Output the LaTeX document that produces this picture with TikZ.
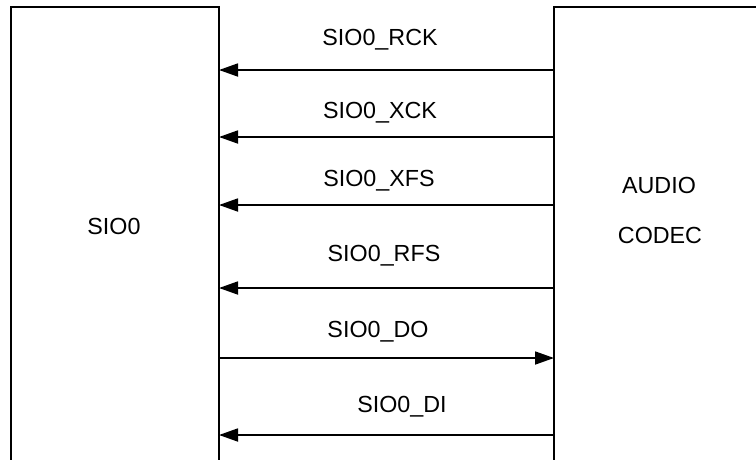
\documentclass[tikz,border=0pt]{standalone}
\usepackage{fontspec}
\setmainfont{Liberation Sans}
\usetikzlibrary{arrows.meta}
\begin{document}
\begin{tikzpicture}[x=1pt,y=-1pt,
  boxline/.style={line width=1.8pt},
  sig/.style={line width=1.8pt,-{Triangle[length=19pt,width=13pt]}},
  lbl/.style={font=\fontsize{23.3}{27}\selectfont,anchor=base,inner sep=0pt}]
\useasboundingbox[fill=white] (0,0) rectangle (756,459);
% left block SIO0
\coordinate (LT) at (11,7);
\coordinate (RT) at (219,7);
\draw[boxline] (11,470) -- (LT) -- (RT) -- (219,470);
% right block AUDIO CODEC
\coordinate (CT) at (554,7);
\draw[boxline] (770,7) -- (CT) -- (554,470);
\node[lbl] (sio) at (114,234) {SIO0};
\node[lbl] (audio) at (659,193) {AUDIO};
\node[lbl] (codec) at (660,243) {CODEC};
% connector ends
\foreach \n/\y in {1/70,2/137,3/205,4/288,5/358,6/435}{
  \coordinate (a\n) at (219,\y);
  \coordinate (b\n) at (554,\y);
}
\draw[sig] (b1) -- (a1);
\draw[sig] (b2) -- (a2);
\draw[sig] (b3) -- (a3);
\draw[sig] (b4) -- (a4);
\draw[sig] (a5) -- (b5);
\draw[sig] (b6) -- (a6);
\node[lbl] (l1) at (380,45) {SIO0\_RCK};
\node[lbl] (l2) at (380,118) {SIO0\_XCK};
\node[lbl] (l3) at (379,186) {SIO0\_XFS};
\node[lbl] (l4) at (384,261) {SIO0\_RFS};
\node[lbl] (l5) at (378,337) {SIO0\_DO};
\node[lbl] (l6) at (402,412) {SIO0\_DI};
\end{tikzpicture}
\end{document}
